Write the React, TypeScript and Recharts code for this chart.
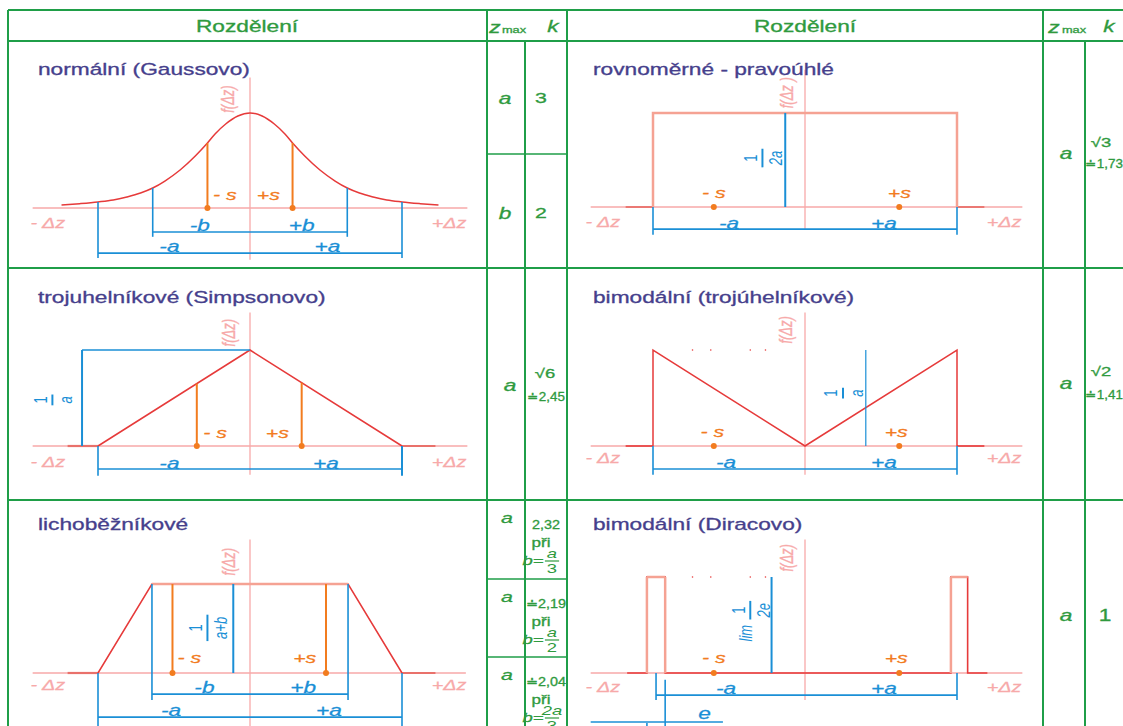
import React from 'react';
import { ComposedChart, Line, XAxis, YAxis, ReferenceLine, ReferenceDot } from 'recharts';

// colours
const GRID = '#1f9e48';
const TXTGREEN = '#2f9a3e';
const TITLE = '#463f8c';
const PINK = '#f7a9a9';
const RED = '#e63a3a';
const SALMON = '#f5a293';
const DARKPINK = '#e9716b';
const BLUE = '#1a8fd6';
const ORANGE = '#f27c1f';
const FONT = '"Liberation Sans", Arial, Helvetica, sans-serif';
const SX = 1.42; // the scan is stretched sideways
const U = 152; // px per one "a"
const V = 96; // px per unit of density

// ---- data (x in units of a, y = relative density) ----
const gaussX = [-1.24, -1.12, -1.0, -0.9, -0.81, -0.72, -0.64, -0.56, -0.46, -0.36, -0.28, -0.23, -0.16, -0.08, 0,
  0.08, 0.16, 0.23, 0.28, 0.36, 0.46, 0.56, 0.64, 0.72, 0.81, 0.9, 1.0, 1.12, 1.24];
const gaussY = [0.03, 0.045, 0.063, 0.083, 0.115, 0.156, 0.208, 0.281, 0.396, 0.542, 0.677, 0.771, 0.875, 0.958, 0.99,
  0.958, 0.875, 0.771, 0.677, 0.542, 0.396, 0.281, 0.208, 0.156, 0.115, 0.083, 0.063, 0.045, 0.03];
const gaussS = [-0.28, 0.28];
const gaussB = [-0.64, 0.64];

const uniformX = [-1, -1, 1, 1];
const uniformY = [0, 0.98, 0.98, 0];
const uniformS = [-0.6, 0.62];

const simpsonX = [-1, 0, 1];
const simpsonY = [0, 1, 0];
const simpsonS = [-0.35, 0.34];

const bimodalX = [-1, -1, 0, 1, 1];
const bimodalY = [0, 1, 0, 1, 0];
const bimodalS = [-0.6, 0.62];
const strayX = [-0.74, -0.62, -0.36, -0.26];

const trapX = [-1, -0.645, 0.645, 1];
const trapY = [0, 0.927, 0.927, 0];
const trapS = [-0.51, 0.5];

const diracX = [-1.17, -1.04, -1.04, -0.92, -0.92, 0.96, 0.96, 1.07, 1.07, 1.2];
const diracY = [0, 0, 1, 1, 0, 0, 1, 1, 0, 0];
const diracS = [-0.6, 0.62];

const toPts = (xs: number[], ys: number[]) => xs.map((x, i) => ({ x, y: ys[i] }));

// ---- small drawing helpers (all go through the chart scales) ----
const seg = (k: string, x1: number, y1: number, x2: number, y2: number, stroke: string, w = 1.5) => (
  <ReferenceLine key={k} segment={[{ x: x1, y: y1 }, { x: x2, y: y2 }]} stroke={stroke} strokeWidth={w} ifOverflow="visible" />
);
const dot = (k: string, x: number, y: number, fill: string, r = 3) => (
  <ReferenceDot key={k} x={x} y={y} r={r} fill={fill} stroke="none" ifOverflow="visible" />
);

function SText({ x, y, text, size = 15, color, italic = true, anchor = 'middle', rotate = 0, baseline = 'central', sx = SX, heavy = 0 }: any) {
  return (
    <text transform={`translate(${x},${y}) scale(${sx},1)${rotate ? ` rotate(${rotate})` : ''}`} textAnchor={anchor}
      dominantBaseline={baseline} fontFamily={FONT} fontSize={size} fontStyle={italic ? 'italic' : 'normal'} fill={color}
      stroke={heavy ? color : 'none'} strokeWidth={heavy}>
      {text}
    </text>
  );
}

const lbl = (k: string, x: number, y: number, text: string, color: string, size = 15, rotate = 0) => (
  <ReferenceDot key={k} x={x} y={y} r={0} ifOverflow="visible"
    shape={(p: any) => <SText x={p.cx} y={p.cy} text={text} color={color} size={size} rotate={rotate} heavy={0.25} />} />
);

function RotFrac({ x, y, num, den, color, size = 13, prefix }: any) {
  const w = Math.max(num.length, den.length) * size * 0.6 + 3;
  const off = prefix ? 10 : 0;
  return (
    <g transform={`translate(${x},${y}) scale(${SX},1) rotate(-90)`} fill={color} fontFamily={FONT} fontSize={size}>
      {prefix && <text x={-13} y={1} textAnchor="middle" fontStyle="italic">{prefix}</text>}
      <text x={off} y={-4} textAnchor="middle">{num}</text>
      <line x1={off - w / 2} x2={off + w / 2} y1={0} y2={0} stroke={color} strokeWidth={1.4} />
      <text x={off} y={size + 1} textAnchor="middle" fontStyle="italic">{den}</text>
    </g>
  );
}

const frac = (k: string, x: number, y: number, num: string, den: string, prefix?: string) => (
  <ReferenceDot key={k} x={x} y={y} r={0} ifOverflow="visible"
    shape={(p: any) => <RotFrac x={p.cx} y={p.cy} num={num} den={den} color={BLUE} prefix={prefix} />} />
);

// common axis bits
const axes = (xl: number, xr: number, vt: number, vb: number, dzY: number) => [
  seg('ax', xl, 0, xr, 0, PINK, 1.3),
  seg('vax', 0, vt, 0, vb, PINK, 1.3),
  lbl('dzl', -1.33, dzY, '- Δz', PINK, 14),
  lbl('dzr', 1.31, dzY, '+Δz', PINK, 14),
];

function Panel({ left, top, width, height, cx, cy, children }: any) {
  const xd = [(left - cx) / U, (left + width - cx) / U];
  const yd = [(cy - top - height) / V, (cy - top) / V];
  return (
    <div style={{ position: 'absolute', left, top, width, height }}>
      <ComposedChart width={width} height={height} margin={{ top: 0, right: 0, bottom: 0, left: 0 }} style={{ overflow: 'visible' }}>
        <XAxis type="number" dataKey="x" domain={xd} allowDataOverflow hide />
        <YAxis type="number" dataKey="y" domain={yd} allowDataOverflow hide />
        {children}
      </ComposedChart>
    </div>
  );
}

const curve = (k: string, data: any[], stroke: string, w = 1.5, type: any = 'linear') => (
  <Line key={k} data={data} dataKey="y" type={type} stroke={stroke} strokeWidth={w} dot={false} activeDot={false}
    isAnimationActive={false} />
);

function Gauss() {
  return (
    <Panel left={8} top={41} width={479} height={227} cx={250} cy={208}>
      {[
        ...axes(-1.43, 1.43, 1.36, -0.54, -0.155),
        curve('g', toPts(gaussX, gaussY), RED, 1.5, 'monotone'),
        ...gaussS.map((s, i) => seg('so' + i, s, 0, s, gaussY[10], ORANGE, 2)),
        ...gaussS.map((s, i) => dot('sd' + i, s, 0, ORANGE)),
        ...gaussB.map((b, i) => seg('bv' + i, b, gaussY[6], b, -0.3, BLUE, 1.6)),
        seg('bd', gaussB[0], -0.25, gaussB[1], -0.25, BLUE, 1.6),
        seg('av0', -1, gaussY[2], -1, -0.52, BLUE, 1.6),
        seg('av1', 1, gaussY[2], 1, -0.52, BLUE, 1.6),
        seg('ad', -1, -0.47, 1, -0.47, BLUE, 1.6),
        lbl('ls0', -0.165, 0.135, '- s', ORANGE),
        lbl('ls1', 0.12, 0.135, '+s', ORANGE),
        lbl('lb0', -0.33, -0.177, '-b', BLUE, 16),
        lbl('lb1', 0.34, -0.177, '+b', BLUE, 16),
        lbl('la0', -0.53, -0.4, '-a', BLUE, 16),
        lbl('la1', 0.51, -0.4, '+a', BLUE, 16),
        lbl('f', -0.15, 1.135, 'f(Δz)', PINK, 13, -90),
      ]}
    </Panel>
  );
}

function Uniform() {
  return (
    <Panel left={567} top={41} width={476} height={227} cx={805} cy={207}>
      {[
        ...axes(-1.41, 1.43, 1.43, -0.24, -0.155),
        seg('o0', -1.18, 0, -1, 0, DARKPINK, 1.8),
        seg('o1', 1, 0, 1.18, 0, DARKPINK, 1.8),
        curve('u', toPts(uniformX, uniformY), SALMON, 2.5),
        seg('bl', -0.13, 0, -0.13, uniformY[1], BLUE, 2),
        frac('fr', -0.28, 0.51, '1', '2a'),
        ...uniformS.map((s, i) => dot('sd' + i, s, 0, ORANGE)),
        lbl('ls0', uniformS[0], 0.15, '- s', ORANGE),
        lbl('ls1', uniformS[1], 0.15, '+s', ORANGE),
        seg('ad', -1, -0.23, 1, -0.23, BLUE, 1.6),
        seg('av0', -1, 0, -1, -0.29, BLUE, 1.6),
        seg('av1', 1, 0, 1, -0.29, BLUE, 1.6),
        lbl('la0', -0.5, -0.17, '-a', BLUE, 16),
        lbl('la1', 0.52, -0.17, '+a', BLUE, 16),
        lbl('f', -0.12, 1.19, 'f(Δz )', PINK, 13, -90),
      ]}
    </Panel>
  );
}

function Simpson() {
  return (
    <Panel left={8} top={268} width={479} height={232} cx={250} cy={446}>
      {[
        ...axes(-1.43, 1.43, 1.39, -0.3, -0.165),
        seg('o0', -1.2, 0, -1, 0, DARKPINK, 2.2),
        seg('o1', 1, 0, 1.22, 0, DARKPINK, 2.2),
        curve('t', toPts(simpsonX, simpsonY), RED, 1.5),
        seg('bt', -1.105, simpsonY[1], 0, simpsonY[1], BLUE, 1.6),
        seg('bv', -1.105, simpsonY[1], -1.105, 0, BLUE, 2),
        frac('fr', -1.3, 0.48, '1', 'a'),
        seg('so0', simpsonS[0], 0, simpsonS[0], 1 + simpsonS[0], ORANGE, 2),
        seg('so1', simpsonS[1], 0, simpsonS[1], 1 - simpsonS[1], ORANGE, 2),
        ...simpsonS.map((s, i) => dot('sd' + i, s, 0, ORANGE)),
        lbl('ls0', -0.23, 0.135, '- s', ORANGE),
        lbl('ls1', 0.18, 0.135, '+s', ORANGE),
        seg('ad', -1, -0.24, 1, -0.24, BLUE, 1.6),
        seg('av0', -1, 0, -1, -0.31, BLUE, 1.6),
        seg('av1', 1, 0, 1, -0.31, BLUE, 2),
        lbl('la0', -0.53, -0.18, '-a', BLUE, 16),
        lbl('la1', 0.5, -0.18, '+a', BLUE, 16),
        lbl('f', -0.14, 1.18, 'f(Δz)', PINK, 13, -90),
      ]}
    </Panel>
  );
}

function Bimodal() {
  return (
    <Panel left={567} top={268} width={476} height={232} cx={805} cy={446}>
      {[
        ...axes(-1.41, 1.43, 1.39, -0.3, -0.125),
        seg('o0', -1.18, 0, -1, 0, RED, 1.6),
        seg('o1', 1, 0, 1.18, 0, RED, 1.6),
        curve('v', toPts(bimodalX, bimodalY), RED, 1.5),
        ...strayX.map((x, i) => dot('st' + i, x, 1, RED, 0.8)),
        seg('bl', 0.4, 0, 0.4, 1, BLUE, 1.2),
        frac('fr', 0.25, 0.55, '1', 'a'),
        ...bimodalS.map((s, i) => dot('sd' + i, s, 0, ORANGE)),
        lbl('ls0', -0.61, 0.145, '- s', ORANGE),
        lbl('ls1', 0.6, 0.145, '+s', ORANGE),
        seg('ad', -1, -0.24, 1, -0.24, BLUE, 1.6),
        seg('av0', -1, 0, -1, -0.3, BLUE, 1.6),
        seg('av1', 1, 0, 1, -0.3, BLUE, 1.6),
        lbl('la0', -0.52, -0.17, '-a', BLUE, 16),
        lbl('la1', 0.52, -0.17, '+a', BLUE, 16),
        lbl('f', -0.13, 1.21, 'f(Δz)', PINK, 13, -90),
      ]}
    </Panel>
  );
}

function Trapezoid() {
  return (
    <Panel left={8} top={500} width={479} height={226} cx={250} cy={673}>
      {[
        ...axes(-1.43, 1.42, 1.39, -0.6, -0.125),
        seg('o0', -1.2, 0, -1, 0, DARKPINK, 2.2),
        seg('o1', 1, 0, 1.22, 0, DARKPINK, 2.2),
        curve('tr', toPts(trapX, trapY), RED, 1.5),
        seg('top', trapX[1], trapY[1], trapX[2], trapY[2], SALMON, 2.5),
        seg('bv0', trapX[1], trapY[1], trapX[1], -0.28, BLUE, 1.6),
        seg('bv1', trapX[2], trapY[2], trapX[2], -0.28, BLUE, 1.6),
        seg('bd', trapX[1], -0.22, trapX[2], -0.22, BLUE, 1.6),
        seg('av0', -1, 0, -1, -0.6, BLUE, 1.6),
        seg('av1', 1, 0, 1, -0.6, BLUE, 1.6),
        seg('ad', -1, -0.46, 1, -0.46, BLUE, 1.6),
        ...trapS.map((s, i) => seg('so' + i, s, 0, s, trapY[1], ORANGE, 2)),
        ...trapS.map((s, i) => dot('sd' + i, s, 0, ORANGE)),
        seg('bl', -0.11, 0, -0.11, trapY[1], BLUE, 2),
        frac('fr', -0.28, 0.47, '1', 'a+b'),
        lbl('ls0', -0.4, 0.16, '- s', ORANGE),
        lbl('ls1', 0.36, 0.16, '+s', ORANGE),
        lbl('lb0', -0.3, -0.15, '-b', BLUE, 16),
        lbl('lb1', 0.35, -0.15, '+b', BLUE, 16),
        lbl('la0', -0.52, -0.385, '-a', BLUE, 16),
        lbl('la1', 0.52, -0.385, '+a', BLUE, 16),
        lbl('f', -0.14, 1.16, 'f(Δz)', PINK, 13, -90),
      ]}
    </Panel>
  );
}

function Dirac() {
  return (
    <Panel left={567} top={500} width={476} height={226} cx={805} cy={673}>
      {[
        ...axes(-1.41, 1.43, 1.39, -0.28, -0.145),
        curve('d', toPts(diracX, diracY), RED, 1.6),
        seg('l0', diracX[2], 0, diracX[2], 1, SALMON, 2.5),
        seg('l1', diracX[2], 1, diracX[3], 1, SALMON, 2.5),
        seg('l2', diracX[4], 0, diracX[4], 1, SALMON, 2.5),
        seg('r0', diracX[6], 0, diracX[6], 1, SALMON, 2.5),
        seg('r1', diracX[6], 1, diracX[7], 1, SALMON, 2.5),
        ...strayX.map((x, i) => dot('st' + i, x, 1, RED, 0.8)),
        seg('bl', -0.22, 0, -0.22, 1, BLUE, 2),
        frac('fr', -0.36, 0.55, '1', '2e', 'lim'),
        ...diracS.map((s, i) => dot('sd' + i, s, 0, ORANGE)),
        lbl('ls0', -0.6, 0.16, '- s', ORANGE),
        lbl('ls1', 0.6, 0.16, '+s', ORANGE),
        seg('ad', -0.98, -0.23, 1.0, -0.23, BLUE, 1.6),
        seg('av0', -0.98, 0, -0.98, -0.28, BLUE, 1.6),
        seg('av1', 1.0, 0, 1.0, -0.28, BLUE, 1.6),
        seg('e0', diracX[4], -0.07, diracX[4], -0.6, BLUE, 1.6),
        seg('e1', diracX[2], -0.52, diracX[2], -0.6, BLUE, 1.6),
        seg('eh', -1.41, -0.51, -0.54, -0.51, BLUE, 1.6),
        lbl('e', -0.66, -0.42, 'e', BLUE, 16),
        lbl('la0', -0.52, -0.16, '-a', BLUE, 16),
        lbl('la1', 0.52, -0.16, '+a', BLUE, 16),
        lbl('f', -0.12, 1.2, 'f(Δz)', PINK, 13, -90),
      ]}
    </Panel>
  );
}

// ---- table ----
const hLines = [
  [8, 1123, 10], [8, 1123, 41], [8, 1123, 268], [8, 1123, 500],
  [487, 567, 154], [487, 567, 579], [487, 567, 657],
];
const vLines = [
  [8, 10, 726], [487, 10, 726], [525, 41, 726], [567, 10, 726], [1043, 10, 726], [1085, 41, 726],
];

function TFrac({ x, y, num, den, size = 13 }: any) {
  return (
    <g transform={`translate(${x},${y}) scale(${SX},1)`} fill={TXTGREEN} fontFamily={FONT} fontSize={size}>
      <text x={0} y={-2} textAnchor="middle" fontStyle="italic">{num}</text>
      <line x1={-5} x2={5} y1={1} y2={1} stroke={TXTGREEN} strokeWidth={1.2} />
      <text x={0} y={size} textAnchor="middle">{den}</text>
    </g>
  );
}

function Table() {
  const t = (x: number, y: number, text: string, size = 15, italic = false, color = TXTGREEN, anchor = 'middle', sx = SX) => (
    <SText key={`${x}-${y}-${text}`} x={x} y={y} text={text} size={size} italic={italic} color={color} anchor={anchor} sx={sx} heavy={0.3} />
  );
  const cond = (top: number, val: string, num: string, den: string) => [
    t(507, top + 18, 'a', 15, true),
    t(546, top + 25, val, 12, false, TXTGREEN, 'middle', 1.2),
    t(541, top + 43, 'při', 12),
    t(533, top + 61, 'b=', 13, true),
    <TFrac key={'fr' + top} x={552} y={top + 60} num={num} den={den} />,
  ];
  return (
    <svg width={1123} height={726} style={{ position: 'absolute', left: 0, top: 0, pointerEvents: 'none' }}>
      {hLines.map(([x1, x2, y], i) => (
        <line key={'h' + i} x1={x1} x2={x2} y1={y} y2={y} stroke={GRID} strokeWidth={i > 3 ? 1.5 : 2} />
      ))}
      {vLines.map(([x, y1, y2], i) => (
        <line key={'v' + i} x1={x} x2={x} y1={y1} y2={y2} stroke={GRID} strokeWidth={2} />
      ))}
      {t(247, 26, 'Rozdělení', 16)}
      {t(805, 26, 'Rozdělení', 16)}
      {t(495, 27, 'z', 16, true)}
      {t(514, 30, 'max', 9)}
      {t(553, 26, 'k', 16, true)}
      {t(1054, 27, 'z', 16, true)}
      {t(1074, 30, 'max', 9)}
      {t(1109, 26, 'k', 16, true)}

      {t(38, 69, 'normální (Gaussovo)', 16, false, TITLE, 'start')}
      {t(593, 69, 'rovnoměrné - pravoúhlé', 16, false, TITLE, 'start')}
      {t(38, 297, 'trojuhelníkové (Simpsonovo)', 16, false, TITLE, 'start')}
      {t(593, 297, 'bimodální (trojúhelníkové)', 16, false, TITLE, 'start')}
      {t(38, 524, 'lichoběžníkové', 16, false, TITLE, 'start')}
      {t(593, 524, 'bimodální (Diracovo)', 16, false, TITLE, 'start')}

      {t(505, 98, 'a', 16, true)}
      {t(541, 98, '3', 15)}
      {t(505, 213, 'b', 16, true)}
      {t(541, 213, '2', 15)}

      {t(1066, 153, 'a', 16, true)}
      {t(1101, 143, '√3', 13)}
      {t(1104, 164, '≐1,73', 12, false, TXTGREEN, 'middle', 1.12)}

      {t(510, 385, 'a', 16, true)}
      {t(545, 374, '√6', 13)}
      {t(546, 397, '≐2,45', 12, false, TXTGREEN, 'middle', 1.12)}

      {t(1066, 383, 'a', 16, true)}
      {t(1101, 372, '√2', 13)}
      {t(1104, 395, '≐1,41', 12, false, TXTGREEN, 'middle', 1.12)}

      {cond(500, '2,32', 'a', '3')}
      {cond(579, '≐2,19', 'a', '2')}
      {cond(657, '≐2,04', '2a', '3')}

      {t(1066, 615, 'a', 16, true)}
      {t(1105, 615, '1', 16)}
    </svg>
  );
}

export default function App() {
  return (
    <div style={{ position: 'absolute', left: 0, top: 0, width: 1123, height: 726, overflow: 'hidden', background: '#fff', fontFamily: FONT }}>
      <Gauss />
      <Uniform />
      <Simpson />
      <Bimodal />
      <Trapezoid />
      <Dirac />
      <Table />
    </div>
  );
}
